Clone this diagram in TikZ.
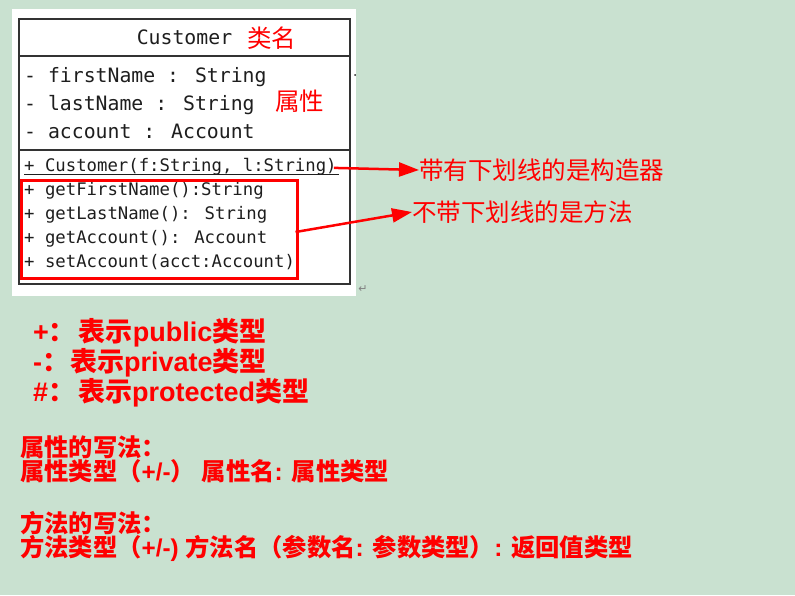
\documentclass[tikz,border=0pt]{standalone}
\usepackage{fontspec}
\setmainfont{Liberation Sans}
\newfontfamily\cjk{Noto Sans CJK SC}
\newfontfamily\monof{DejaVu Sans Mono}
\newfontfamily\symf{DejaVu Sans}
\usetikzlibrary{arrows.meta}
\definecolor{bg}{HTML}{C9E1D0}
\definecolor{rd}{HTML}{FF0000}
\definecolor{txt}{HTML}{1E1E1E}
\definecolor{umlline}{HTML}{333333}
\tikzset{
  mono/.style={font=\monof\fontsize{19.8}{24}\selectfont, inner sep=0pt, anchor=mid west, text=txt},
  monos/.style={font=\monof\fontsize{17.3}{20}\selectfont, inner sep=0pt, anchor=mid west, text=txt},
  rlabel/.style={font=\cjk\fontsize{24.5}{28}\selectfont, text=rd, inner sep=0pt, anchor=west},
  legend/.style={font=\bfseries\fontsize{27}{30}\selectfont, text=rd, inner sep=0pt, anchor=west},
  note/.style={font=\bfseries\fontsize{24.3}{28}\selectfont, text=rd, inner sep=0pt, anchor=west},
  redarrow/.style={draw=rd, line width=2.5pt, -{Triangle[length=20pt,width=14pt]}},
  umlbox/.style={draw=umlline, line width=1.5pt},
}
\begin{document}
\begin{tikzpicture}[x=1pt,y=-1pt]
\fill[bg] (0,0) rectangle (795,595);
\useasboundingbox (0,0) rectangle (795,595);
% white picture area
\fill[white] (12,9) rectangle (356,296);
% class box
\node[umlbox, minimum width=331pt, minimum height=265pt, inner sep=0pt] (cls) at (184.5,151.5) {};
\draw[umlbox] (cls.west |- 0,56) -- (cls.east |- 0,56);
\draw[umlbox] (cls.west |- 0,150) -- (cls.east |- 0,150);
\node[mono, anchor=mid] (title) at (184.5,41.5) {Customer};
\node[rlabel] (lblname) at (247,38) {类名};
\node[mono] (a1) at (24,80) {- firstName : String};
\node[mono] (a2) at (24,108) {- lastName : String};
\node[mono] (a3) at (24,136) {- account : Account};
\node[rlabel] (lblattr) at (275,101) {属性};
\node[monos] (ctor) at (24,169) {+ Customer(f:String, l:String)};
\draw[txt, line width=1pt] ([yshift=-2.5pt]ctor.base west) -- ([yshift=-2.5pt,xshift=2pt]ctor.base east);
\node[monos] (m1) at (24,192.5) {+ getFirstName():String};
\node[monos] (m2) at (24,216.5) {+ getLastName(): String};
\node[monos] (m3) at (24,240.5) {+ getAccount(): Account};
\node[monos] (m4) at (24,264.5) {+ setAccount(acct:Account)};
\node[draw=rd, line width=3pt, minimum width=276pt, minimum height=98pt, inner sep=0pt] (mbox) at (159,229) {};
\fill[txt] (355,75) circle (1pt);
\node[font=\symf\fontsize{11}{12}\selectfont, text=gray, inner sep=0pt] (ret) at (363,289) {↵};
% labels and arrows
\node[rlabel] (lbl1) at (419,170) {带有下划线的是构造器};
\node[rlabel] (lbl2) at (412,212) {不带下划线的是方法};
\draw[redarrow] ([xshift=-3pt,yshift=-1pt]ctor.east) -- (lbl1.west);
\draw[redarrow] ([xshift=-3pt,yshift=-3pt]mbox.east) -- (lbl2.west);
% legend
\node[legend] (lg1) at (33,333) {+{\cjk ：}\hspace{3pt}{\cjk 表示}public{\cjk 类型}};
\node[legend] (lg2) at (33,363) {-{\cjk ：}\hspace{1pt}{\cjk 表示}private{\cjk 类型}};
\node[legend] (lg3) at (33,393) {\#{\cjk ：}\hspace{3pt}{\cjk 表示}protected{\cjk 类型}};
% notes
\node[note] (n1) at (20,447) {{\cjk 属性的写法：}};
\node[note] (n2) at (20,471) {{\cjk 属性类型（}+/-{\cjk ）} {\cjk 属性名}: {\cjk 属性类型}};
\node[note] (n3) at (20,523) {{\cjk 方法的写法：}};
\node[note] (n4) at (20,548) {{\cjk 方法类型（}+/-) {\cjk 方法名（参数名}: {\cjk 参数类型）}: {\cjk 返回值类型}};
\end{tikzpicture}
\end{document}
